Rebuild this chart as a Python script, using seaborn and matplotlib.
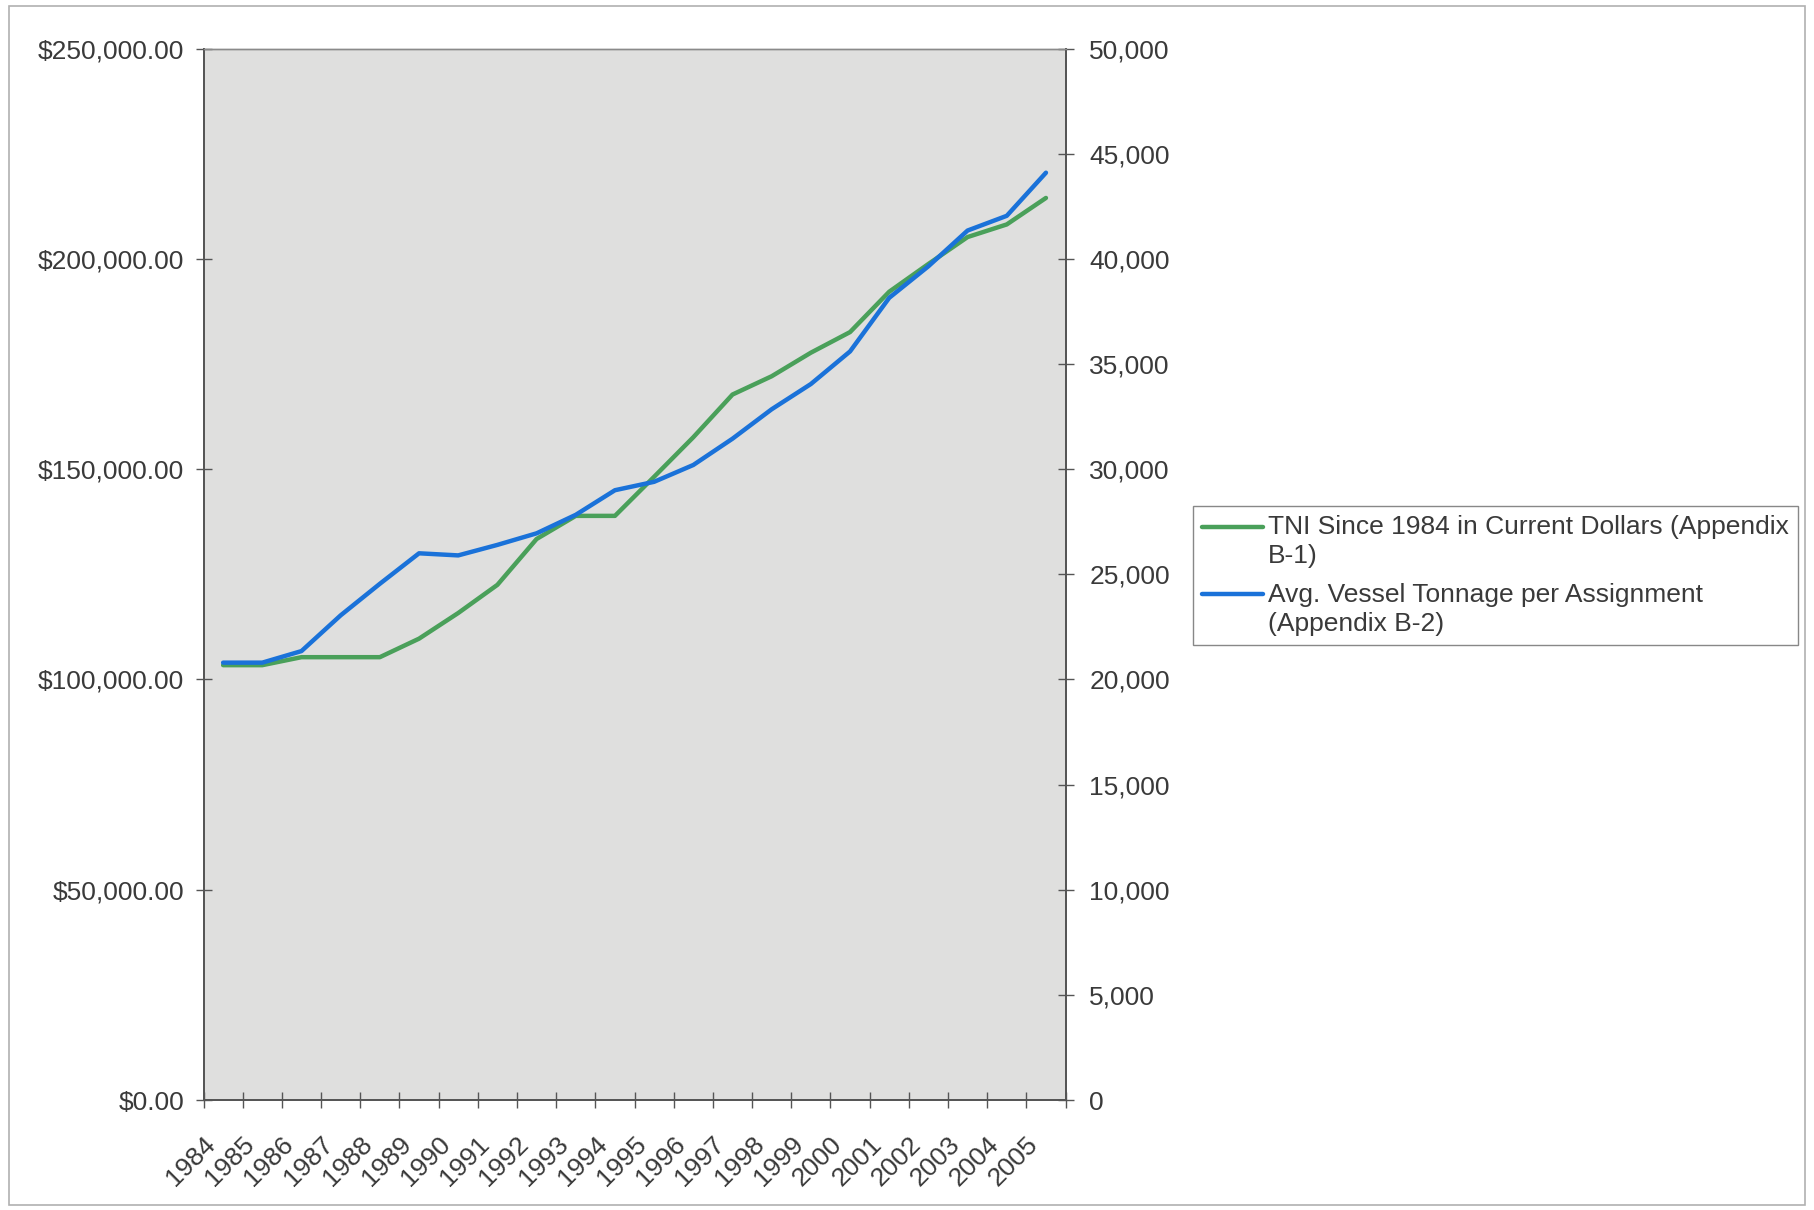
import numpy as np
import pandas as pd
import matplotlib
matplotlib.use("Agg")
import matplotlib.pyplot as plt
import matplotlib.transforms as mtransforms
import seaborn as sns
from matplotlib.ticker import FuncFormatter, FixedLocator

years = [str(y) for y in range(1984, 2006)]

tni_dollars = [103400, 103400, 105300, 105300, 105300, 109700, 115800, 122500,
               133400, 138900, 138900, 148200, 157600, 167750, 172100, 177700,
               182600, 192200, 198800, 205200, 208200, 214500]

vessel_tonnage = [20800, 20800, 21350, 23050, 24550, 26000, 25900, 26400,
                  26950, 27830, 29000, 29400, 30200, 31450, 32850, 34050,
                  35600, 38150, 39650, 41350, 42050, 44100]

tni_label = "TNI Since 1984 in Current Dollars (Appendix\nB-1)"
tonnage_label = "Avg. Vessel Tonnage per Assignment\n(Appendix B-2)"

df = pd.DataFrame({"pos": np.arange(len(years)), "year": years,
                   "tni": tni_dollars, "tonnage": vessel_tonnage})

sns.set_theme(style="white")
plt.rcParams["font.family"] = ["Liberation Sans", "DejaVu Sans"]
text_color = "#3a3a3a"
fs = 19

fig = plt.figure(figsize=(18.14, 12.10), dpi=100)
ax = fig.add_axes([0.1122, 0.0909, 0.4752, 0.8689])
ax.set_facecolor("#dfdfde")
ax2 = ax.twinx()

green = "#4aa05a"
blue = "#1a72d9"
sns.lineplot(data=df, x="pos", y="tni", ax=ax, color=green, linewidth=3.2,
             label=tni_label, legend=False)
sns.lineplot(data=df, x="pos", y="tonnage", ax=ax2, color=blue, linewidth=3.2,
             label=tonnage_label, legend=False)

n = len(years)
ax.set_xlim(-0.5, n - 0.5)
ax.set_ylim(0, 250000)
ax2.set_ylim(0, 50000)

ax.set_yticks(np.arange(0, 250001, 50000))
ax.yaxis.set_major_formatter(FuncFormatter(lambda v, p: f"${v:,.2f}"))
ax2.set_yticks(np.arange(0, 50001, 5000))
ax2.yaxis.set_major_formatter(FuncFormatter(lambda v, p: f"{int(v):,}"))

# category labels at the centres, tick marks at the category boundaries
ax.xaxis.set_major_locator(FixedLocator(np.arange(n)))
ax.set_xticklabels(years, rotation=45, ha="right", rotation_mode="anchor",
                   fontsize=fs, color=text_color)
ax.tick_params(axis="x", which="major", length=0, pad=23)
shift = mtransforms.ScaledTranslation(-20 / 100, 0, fig.dpi_scale_trans)
for lbl in ax.get_xticklabels():
    lbl.set_transform(lbl.get_transform() + shift)
ax.xaxis.set_minor_locator(FixedLocator(np.arange(-0.5, n, 1.0)))
ax.tick_params(axis="x", which="minor", direction="inout", length=12,
               width=1.0, color="#555555", bottom=True)

ax.tick_params(axis="y", direction="inout", length=12, width=1.0,
               color="#555555", labelsize=fs, labelcolor=text_color, pad=8,
               left=True)
ax2.tick_params(axis="y", direction="inout", length=12, width=1.0,
                color="#555555", labelsize=fs, labelcolor=text_color, pad=11,
                right=True)

ax.set_xlabel("")
ax.set_ylabel("")
ax2.set_ylabel("")
ax.grid(False)
ax2.grid(False)

for a in (ax, ax2):
    for side in ("left", "right", "bottom"):
        a.spines[side].set_color("#555555")
        a.spines[side].set_linewidth(1.3)
    a.spines["top"].set_color("#8a8a8a")
    a.spines["top"].set_linewidth(1.0)

h1, l1 = ax.get_legend_handles_labels()
h2, l2 = ax2.get_legend_handles_labels()
leg = fig.legend(h1 + h2, l1 + l2, loc="upper left",
                 bbox_to_anchor=(1193 / 1814, 1 - 506 / 1210),
                 fontsize=fs, frameon=True, fancybox=False,
                 edgecolor="#888888", facecolor="white", framealpha=1,
                 handlelength=2.3, handletextpad=0.2, borderpad=0.35,
                 labelspacing=0.55, borderaxespad=0)
for t in leg.get_texts():
    t.set_color(text_color)
    t.set_linespacing(1.27)
# put each legend line level with the first line of its label
for hl in leg.legend_handles:
    y = np.asarray(hl.get_ydata(), dtype=float)
    hl.set_ydata(y + 11.0)
leg.get_frame().set_linewidth(1.0)

# thin frame around the whole chart
fig.patches.append(plt.Rectangle((0.005, 0.004), 0.99, 0.991,
                                 transform=fig.transFigure, fill=False,
                                 edgecolor="#b0b0b0", linewidth=1.2))

fig.savefig("out.png", dpi=100, facecolor="white")
